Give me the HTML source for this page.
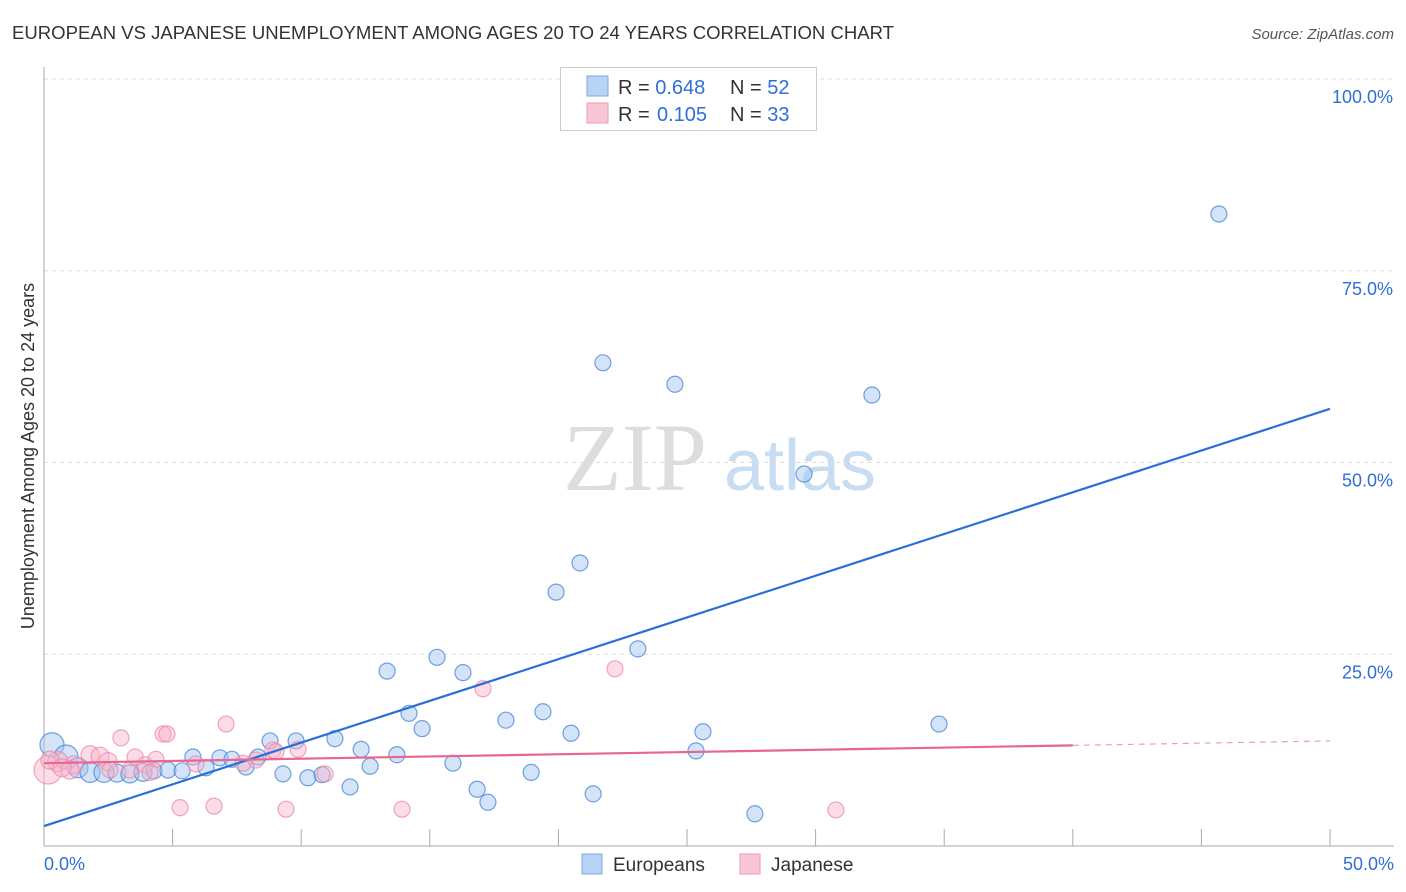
<!DOCTYPE html>
<html><head><meta charset="utf-8"><style>
body{margin:0;background:#fff;font-family:"Liberation Sans",sans-serif;}
svg{display:block}
</style></head><body>
<svg id="chart" width="1406" height="892" xmlns="http://www.w3.org/2000/svg">
<text x="12" y="39" font-size="18" fill="#333" textLength="882" lengthAdjust="spacingAndGlyphs">EUROPEAN VS JAPANESE UNEMPLOYMENT AMONG AGES 20 TO 24 YEARS CORRELATION CHART</text>
<text x="1394" y="39" font-size="15" fill="#555" font-style="italic" text-anchor="end">Source: ZipAtlas.com</text>
<g>
<text x="635" y="490" font-size="96" fill="#ddd" font-family="Liberation Serif,serif" text-anchor="middle">ZIP</text>
<text x="800" y="490" font-size="72" fill="#c8dcf2" text-anchor="middle">atlas</text>
</g>
<g id="grid"></g>
<g id="axes"></g>
<text transform="translate(34,456) rotate(-90)" font-size="18" fill="#333" text-anchor="middle">Unemployment Among Ages 20 to 24 years</text>
<g id="pts"></g>
<g id="lines"></g>
<g>
<rect x="560.5" y="67.5" width="256" height="63" fill="#fff" stroke="#ccc"/>
<rect x="587" y="76" width="21" height="20" fill="#b8d4f5" stroke="#7aa8e6"/>
<rect x="587" y="103" width="21" height="20" fill="#f9c6d6" stroke="#ee9ab5"/>
<text x="618" y="94" font-size="20" fill="#333">R = <tspan fill="#2f6fd6">0.648</tspan><tspan x="730">N = </tspan><tspan fill="#2f6fd6">52</tspan></text>
<text x="618" y="121" font-size="20" fill="#333">R = <tspan x="657" fill="#2f6fd6">0.105</tspan><tspan x="730">N = </tspan><tspan fill="#2f6fd6">33</tspan></text>
</g>
<g>
<rect x="582" y="854" width="20" height="20" fill="#b8d4f5" stroke="#7aa8e6"/>
<text x="613" y="871" font-size="19" fill="#333">Europeans</text>
<rect x="740" y="854" width="20" height="20" fill="#f9c6d6" stroke="#ee9ab5"/>
<text x="771" y="871" font-size="19" fill="#333">Japanese</text>
</g>
</svg>
<script>
const yTicks=[25,50,75,100];
const yTickLabels=["25.0%","50.0%","75.0%","100.0%"];
const xTicks=[5,10,15,20,25,30,35,40,45,50];
const euroX=[0.31,0.86,1.32,1.79,2.33,2.84,3.34,3.85,4.28,4.82,5.37,5.79,6.30,6.84,7.31,7.85,8.32,8.79,9.29,9.80,10.26,10.81,11.31,11.90,12.33,12.68,13.34,13.72,14.19,14.70,15.28,15.90,16.29,16.84,17.26,17.96,18.94,19.40,19.91,20.49,20.84,21.35,21.73,23.09,24.53,25.35,25.62,27.64,29.55,32.19,34.80,45.68];
const euroY=[13.2,11.6,10.2,9.6,9.6,9.5,9.4,9.6,9.8,9.9,9.8,11.6,10.2,11.5,11.3,10.3,11.6,13.7,9.4,13.7,8.9,9.3,14.0,7.7,12.6,10.4,22.8,11.9,17.3,15.3,24.6,10.8,22.6,7.4,5.7,16.4,9.6,17.5,33.1,14.7,36.9,6.8,63.0,25.7,60.2,12.4,14.9,4.2,48.5,58.8,15.9,82.4];
const euroSize=[12,12,10,10,10,9,9,9,8,8,8,8,8,8,8,8,8,8,8,8,8,8,8,8,8,8,8,8,8,8,8,8,8,8,8,8,8,8,8,8,8,8,8,8,8,8,8,8,8,8,8,8];
const japX=[0.16,0.54,1.17,1.79,2.18,2.49,2.99,3.34,3.54,3.93,4.35,4.63,4.78,5.29,5.91,6.61,7.08,7.74,8.90,9.02,9.41,9.88,10.93,13.92,17.07,22.20,30.79,1.01,2.57,4.12,0.23,8.24,0.70];
const japY=[9.9,11.0,10.6,11.9,11.7,11.0,14.1,9.9,11.6,10.6,11.3,14.6,14.6,5.0,10.7,5.2,15.9,10.8,12.5,12.3,4.8,12.6,9.4,4.8,20.5,23.1,4.7,9.9,9.9,9.6,11.2,11.2,10.2];
const japSize=[14,10,9,9,9,9,8,8,8,8,8,8,8,8,8,8,8,8,8,8,8,8,8,8,8,8,8,9,8,8,9,8,9];
const euroTrend=[2.6,57.0];
const japTrend=[10.8,13.7];
const japSolidEnd=40;
const NS="http://www.w3.org/2000/svg";
const X=v=>44+v/50*1286, Y=v=>846-v*7.67;
function mk(t,a,p){const e=document.createElementNS(NS,t);for(const k in a)e.setAttribute(k,a[k]);p.appendChild(e);return e;}
const grid=document.getElementById('grid'),axes=document.getElementById('axes'),pts=document.getElementById('pts'),lines=document.getElementById('lines');
yTicks.forEach((t,i)=>{
 const l=mk('line',{x1:44,x2:1394,y1:Y(t),y2:Y(t),stroke:'#ddd','stroke-dasharray':'4,4'},grid);
 
 
 const tx=mk('text',{x:1393,y:Y(t)+24,'font-size':18,fill:'#2f6fd6','text-anchor':'end'},axes);
 tx.textContent=yTickLabels[i];
 
 
});
const topGrid=mk('line',{x1:44,x2:1394,y1:79,y2:79,stroke:'#ddd','stroke-dasharray':'4,4'},grid);


const ya=mk('line',{x1:44,x2:44,y1:67,y2:846,stroke:'#aaa'},axes);


const xa=mk('line',{x1:44,x2:1394,y1:846,y2:846,stroke:'#aaa'},axes);


xTicks.forEach(t=>{
 const l=mk('line',{x1:X(t),x2:X(t),y1:829,y2:846,stroke:'#aaa'},axes);
 
 
});
const x0=mk('text',{x:44,y:870,'font-size':18,fill:'#2f6fd6'},axes);x0.textContent="0.0%";


const x1=mk('text',{x:1394,y:870,'font-size':18,fill:'#2f6fd6','text-anchor':'end'},axes);x1.textContent="50.0%";


euroX.forEach((v,i)=>{
 const c=mk('circle',{cx:X(v),cy:Y(euroY[i]),r:euroSize[i],fill:'rgba(160,196,240,0.45)',stroke:'rgba(70,130,215,0.75)','stroke-width':1.2},pts);
 
 
});
japX.forEach((v,i)=>{
 const c=mk('circle',{cx:X(v),cy:Y(japY[i]),r:japSize[i],fill:'rgba(248,180,202,0.45)',stroke:'rgba(235,130,165,0.7)','stroke-width':1.2},pts);
 
 
});
const bl=mk('line',{x1:X(0),y1:Y(euroTrend[0]),x2:X(50),y2:Y(euroTrend[1]),stroke:'#2a6fd8','stroke-width':2.2},lines);


const jm=japTrend[0]+(japTrend[1]-japTrend[0])*japSolidEnd/50;
const pl=mk('line',{x1:X(0),y1:Y(japTrend[0]),x2:X(japSolidEnd),y2:Y(jm),stroke:'#e8668f','stroke-width':2.2},lines);


const pd=mk('line',{x1:X(japSolidEnd),y1:Y(jm),x2:X(50),y2:Y(japTrend[1]),stroke:'#e8a0b8','stroke-width':1.2,'stroke-dasharray':'6,5'},lines);


</script>
</body></html>
